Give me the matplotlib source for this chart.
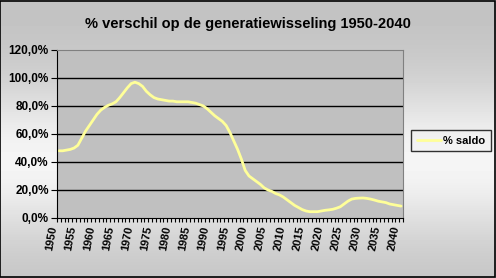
import numpy as np
import matplotlib
matplotlib.use("Agg")
import matplotlib.pyplot as plt
from matplotlib.patches import Rectangle

years = list(range(1950, 2041))
saldo = [48, 48, 48.5, 49, 50, 52, 57, 62, 66, 70,
         74, 77, 79, 80.5, 81.5, 83, 86, 89.5, 93, 96,
         97, 96, 94, 90.5, 88, 86, 85, 84.5, 84, 83.5,
         83.5, 83, 83, 83, 83, 82.5, 82, 81, 80, 78,
         75.5, 73, 71, 69, 66, 61, 55, 49, 42, 34,
         30, 28, 26, 24, 21.5, 20, 19, 17.5, 16.5, 15,
         13, 11, 9, 7.5, 6, 5, 4.5, 4.5, 4.5, 5,
         5.5, 5.8, 6.2, 7, 8, 10, 12, 13.5, 14, 14.2,
         14.3, 14, 13.5, 12.8, 12, 11.5, 11, 10, 9.5, 9, 8.5]
title = "% verschil op de generatiewisseling 1950-2040"
series_name = "% saldo"
yticks = [0, 20, 40, 60, 80, 100, 120]

plt.rcParams['font.family'] = ['Liberation Sans', 'DejaVu Sans']
fig = plt.figure(figsize=(4.96, 2.78), dpi=100)

# background gradient
bg = fig.add_axes([0, 0, 1, 1], zorder=-10)
yy = np.linspace(0, 1, 278)
val = 0.76 + 0.20 * np.exp(-((yy - 0.58) / 0.28) ** 2)
grad = np.tile(val[:, None], (1, 10))
bg.imshow(grad, cmap='gray', vmin=0, vmax=1, aspect='auto', extent=[0, 1, 0, 1], origin='upper')
bg.set_axis_off()
fig.patches.append(Rectangle((0.001, 0.002), 0.997, 0.995, transform=fig.transFigure,
                             fill=False, edgecolor='black', linewidth=1.2))

ax = fig.add_axes([57/496, 1 - 218/278, (403 - 57)/496, (218 - 50)/278])
ax.set_facecolor('#c0c0c0')
x = np.arange(len(years))
ax.plot(x, saldo, color='#ffff99', linewidth=2, label=series_name, solid_capstyle='round')
ax.set_xlim(-0.5, len(years) - 0.5)
ax.set_ylim(0, 120)
ax.set_yticks(yticks)
ax.set_yticklabels([f"{v:.1f}%".replace('.', ',') for v in yticks], fontsize=8.5, fontweight='bold')
for v in yticks[1:-1]:
    ax.axhline(v, color='black', linewidth=1, zorder=1)

lab_idx = [i for i, yv in enumerate(years) if yv % 5 == 0]
ax.set_xticks(lab_idx)
ax.set_xticklabels([str(years[i]) for i in lab_idx], rotation=80, ha='right', va='top',
                   fontsize=8, fontweight='bold')
ax.tick_params(axis='x', which='major', length=0, pad=5)
ax.set_xticks(np.arange(-0.5, len(years)), minor=True)
ax.tick_params(axis='x', which='minor', length=3, width=0.8, color='black', direction='out')
ax.tick_params(axis='y', length=4, width=0.8, direction='out', pad=2)

for s in ['top', 'right']:
    ax.spines[s].set_color('#808080')
for s in ['left', 'bottom']:
    ax.spines[s].set_color('black')

fig.text(0.5 * (83 + 412) / 496, 1 - 24/278, title, ha='center', va='center',
         fontsize=10.5, fontweight='bold')

leg = fig.legend(loc='center left', bbox_to_anchor=(411/496, 1 - 140.5/278),
                 frameon=True, fancybox=False, handlelength=2.2, borderaxespad=0,
                 borderpad=0.5, handletextpad=0.2, prop={'weight': 'bold', 'size': 8})
leg.get_frame().set_edgecolor('black')
leg.get_frame().set_facecolor('none')
leg.get_frame().set_linewidth(1)

fig.savefig('out.png', dpi=100)
